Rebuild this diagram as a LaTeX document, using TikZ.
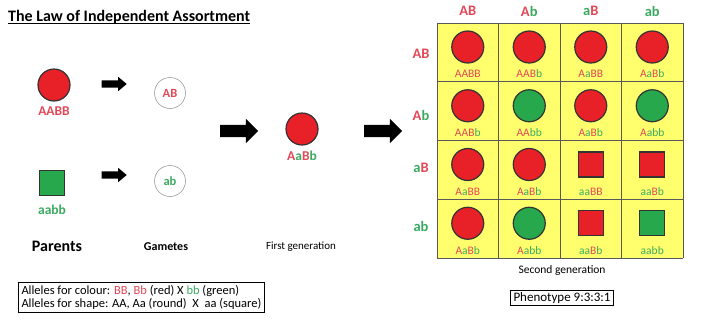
\documentclass[tikz,border=0pt]{standalone}
\usepackage{fontspec}
\setmainfont{Carlito}
\usepackage{tikz}
\usetikzlibrary{positioning}
\usetikzlibrary{shapes.arrows}

\definecolor{peared}{RGB}{232,32,40}
\definecolor{peagreen}{RGB}{40,168,76}
\definecolor{allred}{RGB}{226,72,88}
\definecolor{allgreen}{RGB}{58,170,96}
\definecolor{cellyellow}{RGB}{255,255,110}

\newcommand{\alR}[1]{\textcolor{allred}{#1}}
\newcommand{\alG}[1]{\textcolor{allgreen}{#1}}

\tikzset{
    roundred/.style={circle, draw=black!80, line width=1.2pt, fill=peared, minimum size=32pt, inner sep=0pt},
    roundgreen/.style={circle, draw=black!80, line width=1.2pt, fill=peagreen, minimum size=32pt, inner sep=0pt},
    squarered/.style={rectangle, draw=black!80, line width=1.2pt, fill=peared, minimum size=25pt, inner sep=0pt},
    squaregreen/.style={rectangle, draw=black!80, line width=1.2pt, fill=peagreen, minimum size=25pt, inner sep=0pt},
    gamete/.style={circle, draw=black!45, line width=0.5pt, minimum size=31pt, inner sep=0pt, font=\fontsize{12.5}{14}\selectfont\bfseries},
    cross/.style={single arrow, fill=black, inner xsep=0pt, inner ysep=3.5pt, minimum height=25pt, single arrow head extend=3.5pt, single arrow tip angle=80},
    bigcross/.style={single arrow, fill=black, inner xsep=0pt, inner ysep=6pt, minimum height=38pt, single arrow head extend=6pt, single arrow tip angle=90},
    geno/.style={font=\fontsize{13.5}{15}\selectfont\bfseries},
    cellgeno/.style={font=\fontsize{11.5}{13}\selectfont},
    head/.style={font=\fontsize{14.5}{16}\selectfont\bfseries},
}

\begin{document}
\begin{tikzpicture}[x=1pt, y=-1pt]
    \useasboundingbox (0,0) rectangle (720,319);

    % title
    \node[anchor=west, inner sep=0pt, font=\fontsize{16}{18}\selectfont\bfseries] (title) at (8,17) {The Law of Independent Assortment};
    \draw[line width=1pt] ([yshift=-2.5pt]title.base west) -- ([yshift=-2.5pt]title.base east);

    % parents
    \node[roundred] (p1) at (54,85) {};
    \node[geno, below=2pt of p1] (p1lab) {\alR{AABB}};
    \node[squaregreen] (p2) at (52,183) {};
    \node[geno, below=5pt of p2] (p2lab) {\alG{aabb}};

    \node[cross] (a1) at (112,84) {};
    \node[cross] (a2) at (112,175) {};

    % gametes
    \node[gamete] (g1) at (170,93) {\alR{AB}};
    \node[gamete] (g2) at (170,181) {\alG{ab}};

    % first generation
    \node[bigcross] (a3) at (236,131) {};
    \node[roundred] (f1) at (302,129) {};
    \node[geno, below=2pt of f1] (f1lab) {\alR{A}\alG{a}\alR{B}\alG{b}};
    \node[bigcross] (a4) at (380,131) {};

    \node[font=\fontsize{16}{18}\selectfont\bfseries] (parents) at (57,246) {Parents};
    \node[font=\fontsize{12}{14}\selectfont\bfseries] (gametes) at (166,247) {Gametes};
    \node[font=\fontsize{11}{13}\selectfont] (first) at (301,247) {First generation};

    % punnett square
    \fill[cellyellow] (437,23) rectangle (683,258);
    \foreach \x in {437,498.5,560,621.5,683}
        \draw[black!65, line width=0.8pt] (\x,23) -- (\x,258);
    \foreach \y in {23,81.75,140.5,199.25,258}
        \draw[black!65, line width=0.8pt] (437,\y) -- (683,\y);

    \node[head] (c1) at (467.75,11) {\alR{AB}};
    \node[head] (c2) at (529.25,11) {\alR{A}\alG{b}};
    \node[head] (c3) at (590.75,11) {\alG{a}\alR{B}};
    \node[head] (c4) at (652.25,11) {\alG{ab}};

    \node[head] (r1) at (421,54) {\alR{AB}};
    \node[head] (r2) at (421,115) {\alR{A}\alG{b}};
    \node[head] (r3) at (421,168) {\alG{a}\alR{B}};
    \node[head] (r4) at (421,226) {\alG{ab}};

    \foreach \i/\j/\kind/\lab in {
        1/1/roundred/\alR{AABB}, 2/1/roundred/\alR{AAB}\alG{b}, 3/1/roundred/\alR{A}\alG{a}\alR{BB}, 4/1/roundred/\alR{A}\alG{a}\alR{B}\alG{b},
        1/2/roundred/\alR{AAB}\alG{b}, 2/2/roundgreen/\alR{AA}\alG{bb}, 3/2/roundred/\alR{A}\alG{a}\alR{B}\alG{b}, 4/2/roundgreen/\alR{A}\alG{abb},
        1/3/roundred/\alR{A}\alG{a}\alR{BB}, 2/3/roundred/\alR{A}\alG{a}\alR{B}\alG{b}, 3/3/squarered/\alG{aa}\alR{BB}, 4/3/squarered/\alG{aa}\alR{B}\alG{b},
        1/4/roundred/\alR{A}\alG{a}\alR{B}\alG{b}, 2/4/roundgreen/\alR{A}\alG{abb}, 3/4/squarered/\alG{aa}\alR{B}\alG{b}, 4/4/squaregreen/\alG{aabb}}
    {
        \node[\kind] (pea\i\j) at ({437+61.5*(\i-0.5)},{23+58.75*(\j-1)+24}) {};
        \node[cellgeno] (geno\i\j) at ({437+61.5*(\i-0.5)},{23+58.75*(\j-1)+51}) {\lab};
    }

    \node[font=\fontsize{11.5}{13}\selectfont] (second) at (562,270) {Second generation};
    \node[draw, line width=1pt, inner xsep=3pt, inner ysep=1.5pt, font=\fontsize{13}{14}\selectfont] (pheno) at (562,298) {Phenotype 9:3:3:1};

    % legend
    \node[draw, line width=1pt, anchor=north west, inner xsep=3pt, inner ysep=2.5pt, align=left, font=\fontsize{12.5}{13.5}\selectfont] (legend) at (18,282)
        {Alleles for colour: \alR{BB}, \alR{Bb} (red) X \alG{bb} (green)\\
         Alleles for shape: AA, Aa (round) \ X \ aa (square)};
\end{tikzpicture}
\end{document}
